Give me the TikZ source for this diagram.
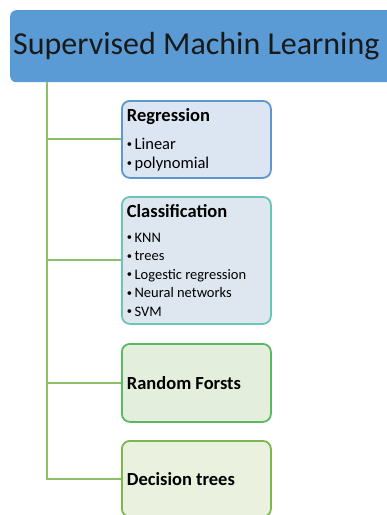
\documentclass[tikz,border=0pt]{standalone}
\usepackage{fontspec}
\setmainfont{Carlito}
\usetikzlibrary{positioning}

\definecolor{headblue}{HTML}{5B9BD5}
\definecolor{regline}{HTML}{5E97D0}
\definecolor{regfill}{HTML}{DCE5F2}
\definecolor{clsline}{HTML}{6CC4B4}
\definecolor{clsfill}{HTML}{DEE7EF}
\definecolor{rfline}{HTML}{5DB760}
\definecolor{rffill}{HTML}{E3EFDC}
\definecolor{dtline}{HTML}{7DB64E}
\definecolor{dtfill}{HTML}{EAF1DF}
\definecolor{branchgreen}{HTML}{8CC068}

\newcommand{\boxhead}[1]{{\fontsize{18.5}{22}\selectfont\bfseries #1\par}}
\newcommand{\dotitem}{\raisebox{0.12em}{\fontsize{10.5}{10.5}\selectfont\textbullet}\kern2.5pt}

\begin{document}
\begin{tikzpicture}[x=1pt,y=-1pt,
    headbox/.style={fill=headblue,rounded corners=6pt,anchor=north west,
        minimum height=72pt,text width=380pt,inner xsep=3pt,align=flush left,
        font=\fontsize{32}{36}\selectfont,text=black!90},
    box/.style={draw,line width=1.8pt,rounded corners=8pt,anchor=north west,
        text width=139pt,inner xsep=5pt,align=flush left},
    branch/.style={draw=branchgreen,line width=2pt}]

    % Page
    \clip (0,0) rectangle (387,515);

    % Heading
    \node[headbox] (title) at (10,10) {Supervised Machin Learning};

    % Boxes
    \node[box,draw=regline,fill=regfill,minimum height=77pt] (regression) at (121,100)
        {\boxhead{Regression}\vspace{9pt}
         {\fontsize{16.5}{19}\selectfont
          \dotitem Linear\par
          \dotitem polynomial\par}};
    \node[box,draw=clsline,fill=clsfill,minimum height=127pt] (classification) at (121,196)
        {\boxhead{Classification}\vspace{6.5pt}
         {\fontsize{14.5}{18.5}\selectfont
          \dotitem KNN\par
          \dotitem trees\par
          \dotitem Logestic regression\par
          \dotitem Neural networks\par
          \dotitem SVM\par}};
    \node[box,draw=rfline,fill=rffill,minimum height=78pt] (forests) at (121,343)
        {\boxhead{Random Forsts}};
    \node[box,draw=dtline,fill=dtfill,minimum height=76pt] (dectrees) at (121,440)
        {\boxhead{Decision trees}};

    % Tree connectors
    \coordinate (trunk) at (47,82);
    \foreach \leaf in {regression,classification,forests,dectrees} {
        \draw[branch] (trunk) |- (\leaf.west);
    }

\end{tikzpicture}
\end{document}
